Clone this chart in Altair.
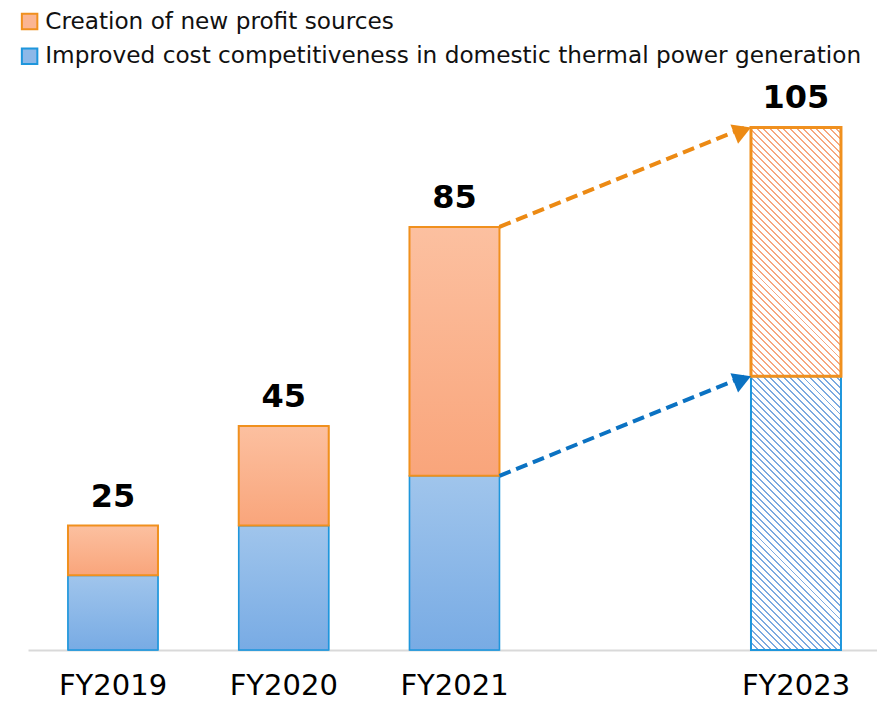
import math
import altair as alt
import pandas as pd

# ---------------- data ----------------
categories = ["FY2019", "FY2020", "FY2021", "FY2023"]
cost_values = [15, 25, 35, 55]       # Improved cost competitiveness (blue)
profit_values = [10, 20, 50, 50]     # Creation of new profit sources (orange)
totals = [25, 45, 85, 105]
plan_flags = [False, False, False, True]   # FY2023 is a target (hatched)

SER_PROFIT = "Creation of new profit sources"
SER_COST = "Improved cost competitiveness in domestic thermal power generation"

x_domain = ["FY2019", "FY2020", "FY2021", " ", "FY2023"]

rows = []
for c, b, o, plan in zip(categories, cost_values, profit_values, plan_flags):
    rows.append(dict(category=c, series=SER_COST, y0=0, y1=b, plan=plan))
    rows.append(dict(category=c, series=SER_PROFIT, y0=b, y1=b + o, plan=plan))
df = pd.DataFrame(rows)
tot_df = pd.DataFrame(dict(category=categories, total=totals))

# arrows from FY2021 tops to FY2023 tops
i_from, i_to = 2, 3
arr_df = pd.DataFrame([
    dict(series=SER_PROFIT, x_from=categories[i_from], x_to=categories[i_to],
         y_from=cost_values[i_from] + profit_values[i_from],
         y_to=cost_values[i_to] + profit_values[i_to]),
    dict(series=SER_COST, x_from=categories[i_from], x_to=categories[i_to],
         y_from=cost_values[i_from], y_to=cost_values[i_to]),
])

# ---------------- layout / style ----------------
W, H = 849, 642
YMAX = 129
P_IN, P_OUT, ALIGN = 0.473, 0.2226, 0.526
step = W / (len(x_domain) - P_IN + 2 * P_OUT)
bw = step * (1 - P_IN)
ppu = H / YMAX

FONT = "DejaVu Sans"
ORANGE_STROKE = "#F0901E"
BLUE_STROKE = "#1E96DC"
ORANGE_ARROW = "#EC8A14"
BLUE_ARROW = "#0B72C2"


def vgrad(top, bottom):
    return {"gradient": "linear", "x1": 0, "y1": 0, "x2": 0, "y2": 1,
            "stops": [{"offset": 0, "color": top}, {"offset": 1, "color": bottom}]}


def hatch(color, w, h, period=4.7, duty=0.3):
    k = (w + h) / (w * w + h * h)
    length_px = (w + h) / math.sqrt(2)
    n = max(1, int(round(length_px / period)))
    stops = []
    for i in range(n):
        s = i / n
        m = (i + duty) / n
        e = (i + 1) / n
        stops += [{"offset": s, "color": color}, {"offset": m, "color": color},
                  {"offset": m, "color": "#ffffff"}, {"offset": e, "color": "#ffffff"}]
    return {"gradient": "linear", "x1": 0, "y1": 1, "x2": w * k, "y2": 1 - h * k,
            "stops": stops}


xscale = alt.Scale(domain=x_domain, paddingInner=P_IN, paddingOuter=P_OUT, align=ALIGN)
yscale = alt.Scale(domain=[0, YMAX], nice=False, zero=True)

X = alt.X("category:N", scale=xscale, sort=x_domain,
          axis=alt.Axis(title=None, labelAngle=0, labelFontSize=29, labelColor="#000000",
                        labelFont=FONT, labelPadding=21, ticks=False, tickSize=0,
                        domainColor="#D9D9D9", domainWidth=2, grid=False))
Y = alt.Y("y0:Q", scale=yscale, axis=None)
Y2 = alt.Y2("y1:Q")

legend = alt.Legend(title=None, orient="none", legendX=-10, legendY=2,
                    symbolType="square", symbolSize=240, symbolStrokeWidth=2,
                    labelFontSize=23.2, labelFont=FONT, labelColor="#111111",
                    labelLimit=2000, rowPadding=9.6, labelOffset=4, padding=0)

legend_layer = alt.Chart(df).mark_bar().encode(
    x=X, y=Y, y2=Y2,
    fill=alt.Fill("series:N", scale=alt.Scale(domain=[SER_PROFIT, SER_COST],
                                              range=["#FBB592", "#8DB8E8"]), legend=legend),
    stroke=alt.Stroke("series:N", scale=alt.Scale(domain=[SER_PROFIT, SER_COST],
                                                  range=[ORANGE_STROKE, BLUE_STROKE]), legend=legend),
)

layers = [legend_layer]

# solid (actual) bars with vertical gradient
solid_specs = [
    (SER_COST, vgrad("#A0C5EC", "#78ABE4"), BLUE_STROKE, 1.6),
    (SER_PROFIT, vgrad("#FCC0A0", "#F9A57B"), ORANGE_STROKE, 2),
]
for ser, grad, stroke, sw in solid_specs:
    layers.append(
        alt.Chart(df).transform_filter(
            f"datum.series == '{ser}' && datum.plan == false"
        ).mark_bar(stroke=stroke, strokeWidth=sw).encode(
            x=X, y=Y, y2=Y2, fill=alt.value(grad))
    )

# hatched (plan) bars
plan_idx = plan_flags.index(True)
h_cost = cost_values[plan_idx] * ppu
h_profit = profit_values[plan_idx] * ppu
hatch_specs = [
    (SER_COST, hatch("#7BA9E0", bw, h_cost), BLUE_STROKE, 2),
    (SER_PROFIT, hatch("#F6A77F", bw, h_profit), ORANGE_STROKE, 3),
]
for ser, grad, stroke, sw in hatch_specs:
    layers.append(
        alt.Chart(df).transform_filter(
            f"datum.series == '{ser}' && datum.plan == true"
        ).mark_bar(stroke=stroke, strokeWidth=sw).encode(
            x=X, y=Y, y2=Y2, fill=alt.value(grad))
    )

# total labels
layers.append(
    alt.Chart(tot_df).mark_text(dy=-19, baseline="alphabetic", fontSize=32,
                                fontWeight="bold", color="#000000", font=FONT).encode(
        x=alt.X("category:N", scale=xscale), y=alt.Y("total:Q", scale=yscale),
        text=alt.Text("total:Q"))
)

# arrows
dx_px = (x_domain.index(categories[i_to]) - x_domain.index(categories[i_from])) * step - bw
dy_px = (arr_df.y_to[0] - arr_df.y_from[0]) * ppu
theta = math.atan2(dy_px, dx_px)
ang = 360 - math.degrees(theta)
HEAD = 430
tip = math.sqrt(HEAD) / 2 * 0.87

for ser, col in [(SER_PROFIT, ORANGE_ARROW), (SER_COST, BLUE_ARROW)]:
    sub = alt.Chart(arr_df).transform_filter(f"datum.series == '{ser}'")
    layers.append(
        sub.mark_rule(xOffset=bw / 2, x2Offset=-bw / 2 - 6, strokeDash=[12, 6],
                      strokeWidth=4, color=col).encode(
            x=alt.X("x_from:N", scale=xscale), x2="x_to:N",
            y=alt.Y("y_from:Q", scale=yscale), y2="y_to:Q")
    )
    layers.append(
        sub.mark_point(shape="triangle-right", filled=True, size=HEAD, angle=ang,
                       opacity=1, color=col,
                       xOffset=-bw / 2 - tip * math.cos(theta),
                       yOffset=tip * math.sin(theta)).encode(
            x=alt.X("x_to:N", scale=xscale), y=alt.Y("y_to:Q", scale=yscale))
    )

chart = alt.layer(*layers).properties(
    width=W, height=H, autosize="none",
    padding={"left": 20, "top": 0, "right": 0, "bottom": 52},
).configure(font=FONT).configure_view(stroke=None)

chart.save("out.html", embed_options={"renderer": "svg", "actions": False})
